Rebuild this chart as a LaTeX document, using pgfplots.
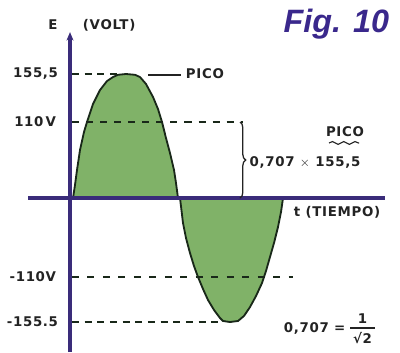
\documentclass[border=0pt]{standalone}
\usepackage{pgfplots}
\pgfplotsset{compat=1.18}
\usepackage{fontspec}
\setmainfont{DejaVu Sans}[LetterSpace=5]
\newfontfamily\figfont{Liberation Sans}
\usetikzlibrary{decorations.pathreplacing,decorations.pathmorphing,arrows.meta}
\definecolor{axiscol}{RGB}{58,44,122}
\definecolor{hump}{RGB}{128,178,104}
\definecolor{edge}{RGB}{25,40,25}
\definecolor{figcol}{RGB}{58,40,140}
\definecolor{txt}{RGB}{35,35,35}
\newcommand{\lab}{\bfseries\fontsize{9.5}{10}\selectfont}
\begin{document}
\begin{tikzpicture}
\begin{axis}[scale only axis, width=10cm, height=8.8cm,
  xmin=-70, xmax=330, ymin=-193.1, ymax=248.3,
  axis lines=none, clip=false]
% positive half wave
\addplot[fill=hump, draw=edge, line width=1.3pt] coordinates {
 (3,0) (5,16.3) (7,35.1) (10,60.2) (14,82.8) (17,95.3) (23,117.9) (30,135.4)
 (37,146.7) (43,151.7) (48,154.5) (56,155.5) (65,154.5) (70,151.7) (76,143.0)
 (83,126.7) (88,111.6) (92,95.3) (96,75.2) (100,56.4) (104,35.1) (106,18.8) (108,0)};
% negative half wave
\addplot[fill=hump, draw=edge, line width=1.3pt] coordinates {
 (110,0) (113,-31.4) (116,-50.2) (120,-69.0) (124,-85.3) (128,-99.1) (133,-114.1)
 (138,-127.9) (144,-140.4) (150,-150.5) (153,-154.2) (160,-155.5) (168,-154.2)
 (174,-147.9) (180,-136.7) (186,-122.9) (192,-106.6) (196,-91.5) (200,-73.9)
 (204,-56.4) (208,-36.3) (211,-17.6) (213,0)};
% dashed reference lines
\addplot[edge, line width=1.1pt, dash pattern=on 5pt off 4pt] coordinates {(2,155.5) (48,155.5)};
\addplot[edge, line width=1.1pt, dash pattern=on 5pt off 5pt] coordinates {(2,95.3) (173,95.3)};
\addplot[edge, line width=1.1pt, dash pattern=on 5pt off 6pt] coordinates {(2,-99.1) (223,-99.1)};
\addplot[edge, line width=1.1pt, dash pattern=on 5pt off 4pt] coordinates {(2,-155.5) (152,-155.5)};
% PICO leader
\addplot[txt, line width=1pt] coordinates {(78,154) (111,154)};
% fraction bar
\addplot[txt, line width=0.9pt] coordinates {(280,-163) (305,-163)};
% axes
\draw[axiscol, line width=2.6pt] (axis cs:-42,0) -- (axis cs:315,0);
\draw[axiscol, line width=2.6pt, -{Stealth[length=6pt,width=5pt]}] (axis cs:0,-193.1) -- (axis cs:0,208);
% brace
\draw[txt, line width=0.9pt, decorate, decoration={brace, amplitude=4pt}] (axis cs:170,95.3) -- (axis cs:170,0);
% labels
\node[txt, font=\lab] at (axis cs:-17,217) {E};
\node[txt, font=\lab, anchor=west] at (axis cs:8,217) {(VOLT)};
\node[txt, font=\lab, anchor=east] at (axis cs:-7,155.5) {155,5};
\node[txt, font=\lab, anchor=east] at (axis cs:-9,95.3) {110\,V};
\node[txt, font=\lab, anchor=east] at (axis cs:-9,-99.1) {-110V};
\node[txt, font=\lab, anchor=east] at (axis cs:-7,-155.5) {-155.5};
\node[txt, font=\lab, anchor=west] at (axis cs:111,156) {PICO};
\node[txt, font=\lab] at (axis cs:275,82.8) {PICO};
\draw[txt, line width=0.8pt, decorate, decoration={snake, amplitude=1pt, segment length=8pt}] (axis cs:259,69) -- (axis cs:289,69);
\node[txt, font=\lab] at (axis cs:235,45) {0,707 $\times$ 155,5};
\node[txt, font=\lab, anchor=west] at (axis cs:219,-17.6) {t\ (TIEMPO)};
\node[txt, font=\lab, anchor=west] at (axis cs:209,-164) {0,707 =};
\node[txt, font=\lab, inner sep=0pt, anchor=south] at (axis cs:292.5,-158) {1};
\node[txt, font=\lab, inner sep=0pt, anchor=north] at (axis cs:292.5,-168) {√2};
\node[figcol, font=\figfont\bfseries\itshape\fontsize{23}{24}\selectfont, anchor=east] at (axis cs:324,218) {Fig. 10};
\coordinate (bl) at (rel axis cs:0,0);
\coordinate (tr) at (rel axis cs:1,1);
\end{axis}
\pgfresetboundingbox
\useasboundingbox (bl) rectangle (tr);
\end{tikzpicture}
\end{document}
